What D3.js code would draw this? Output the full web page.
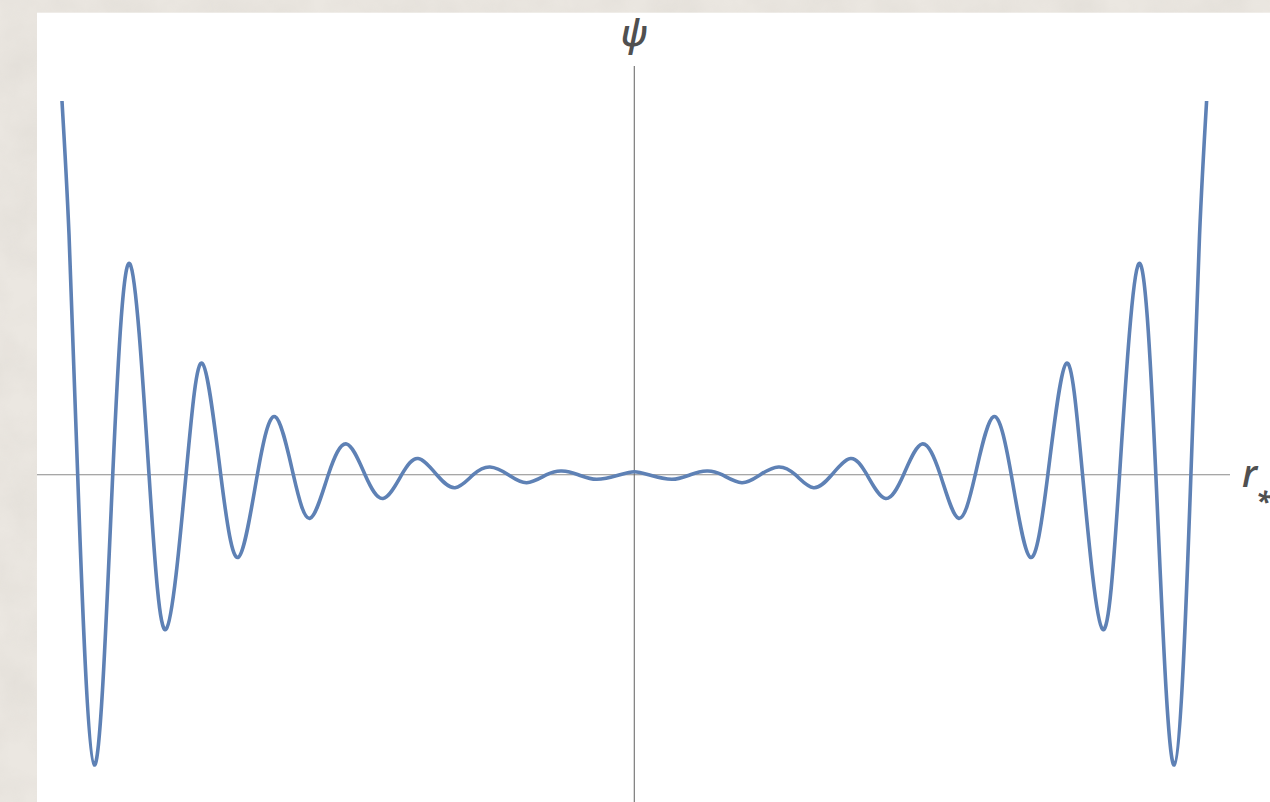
<!DOCTYPE html>
<html>
<head>
<meta charset="utf-8">
<script src="https://cdn.jsdelivr.net/npm/d3@7"></script>
<style>
  html, body { margin: 0; padding: 0; background: #ebe7e1; }
  svg { display: block; }
</style>
</head>
<body>
<svg id="chart" width="1270" height="802"></svg>
<script>
// r* positions (one unit = one oscillation period) and psi values
const rStar = [
  -7.949, -7.851, -7.731, -7.500, -7.244, -7.004, -6.740, -6.504, -6.226, -6.000,
  -5.744, -5.500, -5.236, -4.990, -4.736, -4.504, -4.250, -3.997, -3.740, -3.490,
  -3.231, -3.004, -2.744, -2.490, -2.236, -2.004, -1.750, -1.494, -1.217, -1.008,
  -0.778, -0.522, -0.199, 0.000,
  0.199, 0.522, 0.778, 1.008, 1.217, 1.494, 1.750, 2.004, 2.236, 2.490,
  2.744, 3.004, 3.231, 3.490, 3.740, 3.997, 4.250, 4.504, 4.736, 4.990,
  5.236, 5.500, 5.744, 6.000, 6.226, 6.504, 6.740, 7.004, 7.244, 7.500,
  7.731, 7.851, 7.949
];
const psi = [
  3.737, 2.397, 0, -2.903, 0, 2.107, 0, -1.546, 0, 1.114,
  0, -0.826, 0, 0.580, 0, -0.436, 0, 0.307, 0, -0.238,
  0, 0.162, 0, -0.130, 0, 0.077, 0, -0.080, 0, 0.037,
  0, -0.046, 0, 0.030,
  0, -0.046, 0, 0.037, 0, -0.080, 0, 0.077, 0, -0.130,
  0, 0.162, 0, -0.238, 0, 0.307, 0, -0.436, 0, 0.580,
  0, -0.826, 0, 1.114, 0, -1.546, 0, 2.107, 0, -2.903,
  0, 2.397, 3.737
];
const axisLabels = { y: "ψ", x: "r", xSub: "*" };

const svg = d3.select("#chart");
const W = 1270, H = 802;

// paper texture background
const defs = svg.append("defs");
const f = defs.append("filter").attr("id", "paper").attr("x", 0).attr("y", 0).attr("width", "100%").attr("height", "100%");
f.append("feTurbulence").attr("type", "fractalNoise").attr("baseFrequency", 0.02).attr("numOctaves", 4).attr("seed", 3).attr("result", "n");
f.append("feColorMatrix").attr("in", "n").attr("type", "matrix")
  .attr("values", "0 0 0 0 0.55  0 0 0 0 0.52  0 0 0 0 0.48  0 0 0 0.6 -0.18");
svg.append("rect").attr("width", W).attr("height", H).attr("fill", "#ebe7e1");
svg.append("rect").attr("width", W).attr("height", H).attr("filter", "url(#paper)").attr("opacity", 0.5);

// white panel
svg.append("rect").attr("x", 37).attr("y", 12.7).attr("width", W - 37).attr("height", H - 12.7).attr("fill", "#ffffff");

const x = d3.scaleLinear().domain([-8.296, 8.274]).range([37, 1230]);
const y = d3.scaleLinear().domain([-3.273, 4.087]).range([802, 66]);

// axes (no ticks)
svg.append("line")
  .attr("x1", x.range()[0]).attr("x2", x.range()[1])
  .attr("y1", y(0)).attr("y2", y(0))
  .attr("stroke", "#8a8a8a").attr("stroke-width", 1.1);
svg.append("line")
  .attr("x1", x(0)).attr("x2", x(0))
  .attr("y1", y.range()[1]).attr("y2", y.range()[0])
  .attr("stroke", "#6e6e6e").attr("stroke-width", 1.1);

// curve
const pts = rStar.map((r, i) => [r, psi[i]]);
const line = d3.line().x(d => x(d[0])).y(d => y(d[1])).curve(d3.curveNatural);
svg.append("path").datum(pts)
  .attr("d", line)
  .attr("fill", "none")
  .attr("stroke", "#5e81b5")
  .attr("stroke-width", 3.6)
  .attr("stroke-linejoin", "round")
  .attr("stroke-linecap", "butt");

// labels
svg.append("text")
  .attr("x", x(0)).attr("y", 46)
  .attr("text-anchor", "middle")
  .attr("font-family", "'Open Sans', sans-serif")
  .attr("font-style", "italic")
  .attr("font-weight", 600)
  .attr("font-size", 36)
  .attr("fill", "#505050")
  .text(axisLabels.y);

const xl = svg.append("text")
  .attr("x", 1242).attr("y", 487)
  .attr("font-family", "'Open Sans', sans-serif")
  .attr("font-style", "italic")
  .attr("font-weight", 600)
  .attr("font-size", 37)
  .attr("fill", "#505050");
xl.append("tspan").text(axisLabels.x);
xl.append("tspan").attr("dx", -1).attr("dy", 24).attr("font-size", 27).attr("font-weight", 700).text(axisLabels.xSub);
</script>
</body>
</html>
